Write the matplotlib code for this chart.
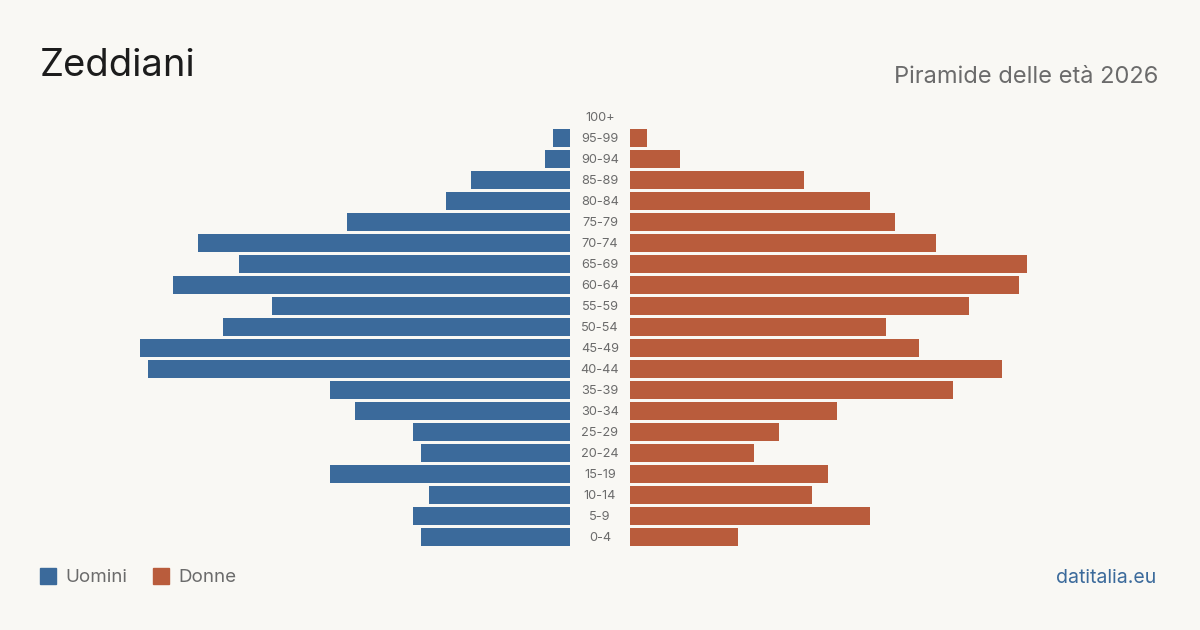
import matplotlib
matplotlib.use('Agg')
import matplotlib.pyplot as plt
from matplotlib.patches import Rectangle

plt.rcParams['font.family'] = ['Inter', 'DejaVu Sans']

# age classes, bottom to top
ages = ['0-4', '5-9', '10-14', '15-19', '20-24', '25-29', '30-34', '35-39', '40-44',
        '45-49', '50-54', '55-59', '60-64', '65-69', '70-74', '75-79', '80-84',
        '85-89', '90-94', '95-99', '100+']
men = [18, 19, 17, 29, 18, 19, 26, 29, 51, 52, 42, 36, 48, 40, 45, 27, 15, 12, 3, 2, 0]
women = [13, 29, 22, 24, 15, 18, 25, 39, 45, 35, 31, 41, 47, 48, 37, 32, 29, 21, 6, 2, 0]

title = 'Zeddiani'
subtitle = 'Piramide delle età 2026'
source = 'datitalia.eu'

BG = '#f9f8f4'
C_MEN = '#3b6a9b'
C_WOMEN = '#b95c3c'
GREY = '#6b6b6b'

W, H = 1200, 630
fig = plt.figure(figsize=(W / 100, H / 100), dpi=100)
fig.patch.set_facecolor(BG)

# pixel geometry
px_per_unit = 8.27
xmax = 54
span = xmax * px_per_unit
top, bottom = 106.5, 547.5

ax_l = fig.add_axes([(570 - span) / W, 1 - bottom / H, span / W, (bottom - top) / H])
ax_r = fig.add_axes([630 / W, 1 - bottom / H, span / W, (bottom - top) / H])

ypos = list(range(len(ages)))
ax_l.barh(ypos, men, height=0.81, color=C_MEN)
ax_r.barh(ypos, women, height=0.81, color=C_WOMEN)
ax_l.set_xlim(xmax, 0)
ax_r.set_xlim(0, xmax)
for ax in (ax_l, ax_r):
    ax.set_ylim(-0.5, len(ages) - 0.5)
    ax.axis('off')
    ax.set_facecolor('none')

# age labels in the gap
for y, a in zip(ypos, ages):
    fig.text(600 / W, 1 - (538 - 21 * y) / H, a, ha='center', va='center',
             fontsize=9.2, color=GREY)

fig.text(40 / W, 1 - 66 / H, title, ha='left', va='center', fontsize=27.5, color='#1c1c1c')
fig.text(1158 / W, 1 - 77 / H, subtitle, ha='right', va='center', fontsize=17, color=GREY)

# legend
for x0, lab, col in [(40, 'Uomini', C_MEN), (153, 'Donne', C_WOMEN)]:
    fig.patches.append(Rectangle((x0 / W, 1 - 584 / H), 16 / W, 16 / H,
                                 transform=fig.transFigure, color=col))
    fig.text((x0 + 25) / W, 1 - 578 / H, lab, ha='left', va='center', fontsize=13.5, color=GREY)

fig.text(1156 / W, 1 - 578 / H, source, ha='right', va='center', fontsize=14, color=C_MEN)

fig.savefig('out.png', dpi=100, facecolor=BG)
